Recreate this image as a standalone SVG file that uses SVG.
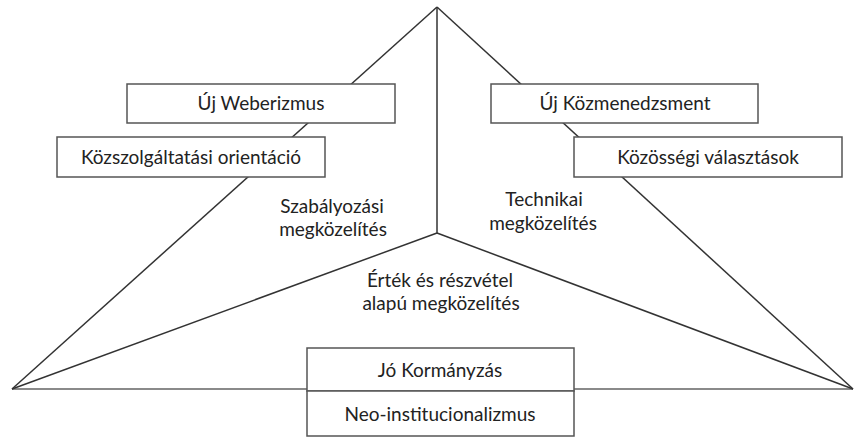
<svg xmlns="http://www.w3.org/2000/svg" width="854" height="437" viewBox="0 0 854 437">
<style>
.ln{stroke:#333;stroke-width:1.5;fill:none}
.base{stroke:#8a8a8a;stroke-width:2.2;fill:none}
.box{fill:#fff;stroke:#555;stroke-width:1.5}
.t{font-family:Lato,"Open Sans",sans-serif;font-size:19px;fill:#222;text-anchor:middle}
</style>
<rect width="854" height="437" fill="#fff"/>
<g id="connectors">
<line class="base" x1="12" y1="389" x2="853" y2="389"/>
<line class="ln" x1="437" y1="7" x2="12" y2="389"/>
<line class="ln" x1="437" y1="7" x2="853" y2="389"/>
<line class="ln" x1="437" y1="7" x2="437" y2="233"/>
<line class="ln" x1="437" y1="233" x2="12" y2="389"/>
<line class="ln" x1="437" y1="233" x2="853" y2="389"/>
</g>
<g id="uj-weberizmus"><rect class="box" x="127" y="84" width="268" height="39"/><text class="t" x="261" y="110">Új Weberizmus</text></g>
<g id="kozszolgaltatasi"><rect class="box" x="57" y="137" width="268" height="40"/><text class="t" x="191" y="164">Közszolgáltatási orientáció</text></g>
<g id="uj-kozmenedzsment"><rect class="box" x="491" y="84" width="267" height="39"/><text class="t" x="625" y="110">Új Közmenedzsment</text></g>
<g id="kozossegi"><rect class="box" x="574" y="137" width="268" height="40"/><text class="t" x="708" y="164">Közösségi választások</text></g>
<g id="szabalyozasi"><text class="t" x="332" y="213">Szabályozási</text><text class="t" x="333" y="236">megközelítés</text></g>
<g id="technikai"><text class="t" x="544" y="206">Technikai</text><text class="t" x="543" y="230">megközelítés</text></g>
<g id="ertek"><text class="t" x="440" y="287">Érték és részvétel</text><text class="t" x="441" y="310">alapú megközelítés</text></g>
<g id="jo-kormanyzas"><rect class="box" x="307" y="348" width="267" height="43"/><text class="t" x="440" y="377">Jó Kormányzás</text></g>
<g id="neo"><rect class="box" x="307" y="391" width="267" height="45"/><text class="t" x="440" y="421">Neo-institucionalizmus</text></g>
</svg>
